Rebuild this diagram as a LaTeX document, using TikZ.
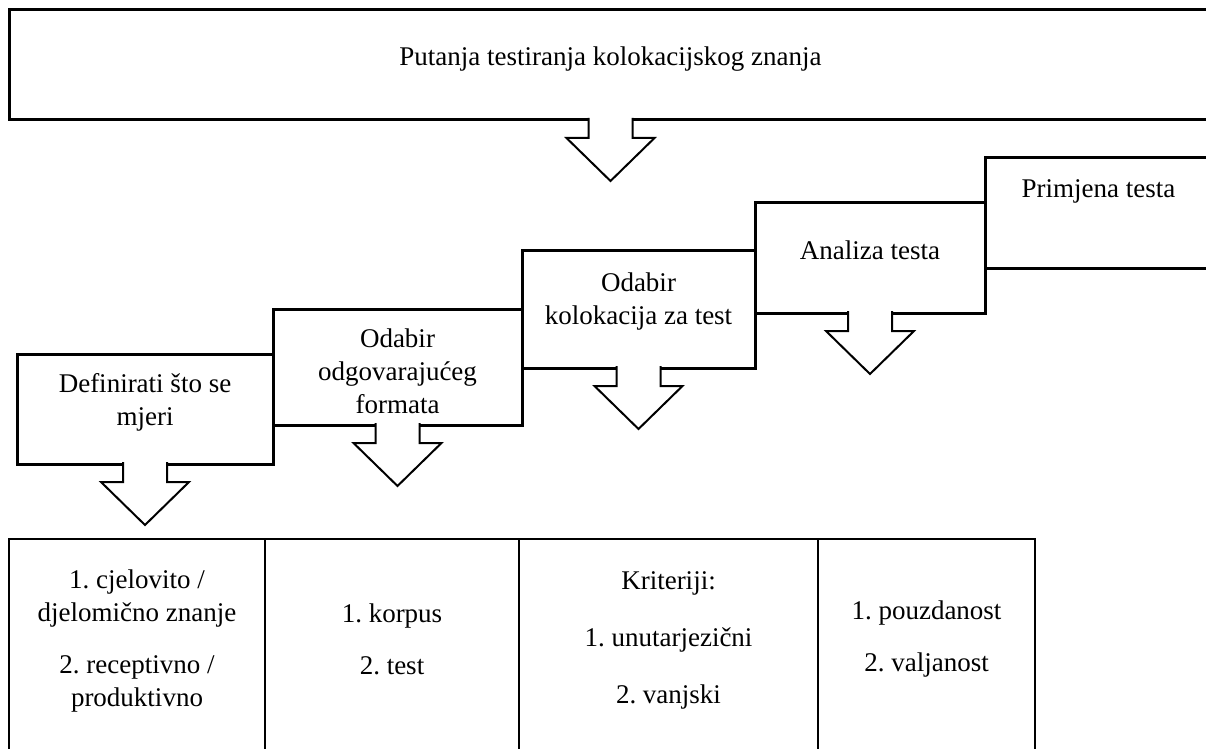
\documentclass[tikz,border=0pt]{standalone}
\usepackage{fontspec}
\setmainfont{Liberation Serif}
\usepackage{tikz}
\usetikzlibrary{positioning,fit}
\frenchspacing

% block arrow hanging below a box
\newcommand{\blockarrow}[1]{%
  \filldraw[arrowshape] (#1.south) ++(-22,-2) -- ++(0,20) -- ++(-22,0)
    -- ++(44,43) -- ++(44,-43) -- ++(-22,0) -- ++(0,-20);}

\begin{document}
\begin{tikzpicture}[x=0.5pt, y=-0.5pt,
    stepbox/.style={draw, line width=1.5pt, inner sep=0pt, outer sep=0pt},
    cellbox/.style={draw, line width=1.2pt, inner sep=0pt, outer sep=0pt},
    arrowshape/.style={draw=black, fill=white, line width=1pt, line join=miter},
    steptext/.style={align=center, font=\fontsize{13.5}{16.5}\selectfont, inner sep=0pt}]
    \useasboundingbox (0,0) rectangle (1206,749);
    \clip (0,0) rectangle (1206,749);

    % Title
    \node[stepbox, fit={(9,10) (1212,120)}] (title) {};
    \node[steptext] (titletxt) at ([yshift=-24.5pt]title.north) {Putanja testiranja kolokacijskog znanja};

    % Steps
    \node[stepbox, fit={(17,354) (273,464)}] (define) {};
    \node[stepbox, fit={(273,309) (522,425)}] (format) {};
    \node[stepbox, fit={(522,250) (755,368)}] (select) {};
    \node[stepbox, fit={(755,203) (985,313)}] (analysis) {};
    \node[stepbox, fit={(985,158) (1212,268)}] (apply) {};

    \node[steptext] (definetxt) at ([yshift=-24pt]define.north) {Definirati što se\\mjeri};
    \node[steptext] (formattxt) at ([yshift=-31pt]format.north) {Odabir\\odgovarajućeg\\formata};
    \node[steptext] (selecttxt) at ([yshift=-26pt]select.north) {Odabir\\kolokacija za test};
    \node[steptext] (analysistxt) at ([yshift=-23.5pt]analysis.north) {Analiza testa};
    \node[steptext] (applytxt) at ([yshift=-16.5pt]apply.north) {Primjena testa};

    % Arrows
    \blockarrow{title}
    \blockarrow{define}
    \blockarrow{format}
    \blockarrow{select}
    \blockarrow{analysis}

    % Table
    \node[cellbox, fit={(9,539) (265,760)}] (cellA) {};
    \node[cellbox, fit={(265,539) (519,760)}] (cellB) {};
    \node[cellbox, fit={(519,539) (818,760)}] (cellC) {};
    \node[cellbox, fit={(818,539) (1035,760)}] (cellD) {};

    \node[steptext] (cellAtxt) at ([yshift=-51pt]cellA.north) {1. cjelovito /\\djelomično znanje\\[9.5pt]2. receptivno /\\produktivno};
    \node[steptext] (cellBtxt) at ([yshift=-50pt]cellB.north) {1. korpus\\[9.5pt]2. test};
    \node[steptext] (cellCtxt) at ([yshift=-50.5pt]cellC.north) {Kriteriji:\\[12pt]1. unutarjezični\\[12pt]2. vanjski};
    \node[steptext] (cellDtxt) at ([yshift=-50pt]cellD.north) {1. pouzdanost\\[9.5pt]2. valjanost};
\end{tikzpicture}
\end{document}
